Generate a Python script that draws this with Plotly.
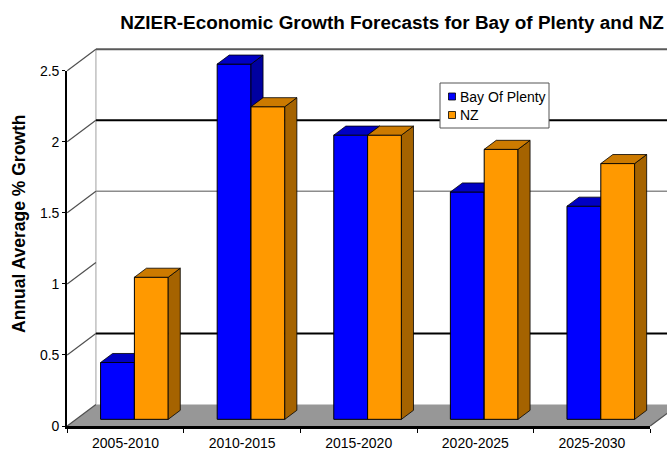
import plotly.graph_objects as go

# ---- data -------------------------------------------------------------
categories = ["2005-2010", "2010-2015", "2015-2020", "2020-2025", "2025-2030"]
bay_of_plenty = [0.4, 2.5, 2.0, 1.6, 1.5]
nz = [1.0, 2.2, 2.0, 1.9, 1.8]
y_ticks = [0, 0.5, 1, 1.5, 2, 2.5]
series_names = ["Bay Of Plenty", "NZ"]

# ---- geometry of the pseudo-3D frame ---------------------------------
W, H = 667, 455
FX0, CW = 125.5, 116.6      # pixel x of first category centre, pixels per category
FY0, VH = 426.0, 142.1      # pixel y of value 0, pixels per unit value
DX, DY = 28.7 / CW, 21.5 / VH   # full floor depth expressed in data units
BAR_W = 0.29                # width of one bar (category units)
F0, F1 = 0.31, 0.73         # depth span occupied by the bars
BDX, BDY = (F1 - F0) * DX, (F1 - F0) * DY
BASE = F0 * DY
X_LO, X_HI = -0.5, len(categories) - 0.5
Y_TOP = y_ticks[-1]

FONT = "Liberation Sans, Arial, sans-serif"

colors = {
    "Bay Of Plenty": dict(front="#0000FF", top="#0000C4", side="#0000A0"),
    "NZ": dict(front="#FF9900", top="#CC7A00", side="#A56300"),
}

fig = go.Figure()


def add_series(name, values, offset, xa, ya):
    c = colors[name]
    xs = [i + F0 * DX for i in range(len(values))]
    fig.add_trace(go.Bar(
        x=xs, y=values, base=BASE, width=BAR_W, offset=offset,
        marker=dict(color=c["front"], line=dict(color="#000000", width=1)),
        name=name, showlegend=False, hoverinfo="skip", xaxis=xa, yaxis=ya,
    ))
    side_x, side_y, top_x, top_y = [], [], [], []
    for x, v in zip(xs, values):
        x0 = x + offset
        x1 = x0 + BAR_W
        t = BASE + v
        side_x += [x1, x1, x1 + BDX, x1 + BDX, x1, None]
        side_y += [BASE, t, t + BDY, BASE + BDY, BASE, None]
        top_x += [x0, x1, x1 + BDX, x0 + BDX, x0, None]
        top_y += [t, t, t + BDY, t + BDY, t, None]
    for px, py, col in ((side_x, side_y, c["side"]), (top_x, top_y, c["top"])):
        fig.add_trace(go.Scatter(
            x=px, y=py, mode="lines", fill="toself", fillcolor=col,
            line=dict(color="#000000", width=0.8), showlegend=False,
            hoverinfo="skip", xaxis=xa, yaxis=ya,
        ))


add_series("Bay Of Plenty", bay_of_plenty, -BAR_W, "x", "y")
add_series("NZ", nz, 0.0, "x3", "y3")

# empty trace so the front value/category axes get their own subplot
fig.add_trace(go.Scatter(x=[], y=[], xaxis="x2", yaxis="y2",
                         showlegend=False, hoverinfo="skip"))

# ---- walls, floor and gridlines --------------------------------------
shapes = []
floor_path = (f"M {X_LO},0 L {X_HI},0 L {X_HI + DX},{DY} "
              f"L {X_LO + DX},{DY} Z")
shapes.append(dict(type="path", path=floor_path, xref="x", yref="y",
                   fillcolor="#979797", line=dict(width=0), layer="below"))
shapes.append(dict(type="line", xref="x", yref="y", layer="below",
                   x0=X_LO + DX, x1=X_LO + DX, y0=DY, y1=Y_TOP + DY,
                   line=dict(color="#C0C0C0", width=1.5)))
grid_style = {
    0.5: ("#000000", 2),
    1.5: ("#8C8C8C", 1.5),
    2: ("#000000", 2),
    2.5: ("#5A5A5A", 2),
}
for v, (col, wd) in grid_style.items():
    shapes.append(dict(type="line", xref="x", yref="y", layer="below",
                       x0=X_LO + DX, x1=X_HI + DX, y0=v + DY, y1=v + DY,
                       line=dict(color=col, width=wd)))
for v in y_ticks:
    shapes.append(dict(type="line", xref="x", yref="y", layer="below",
                       x0=X_LO, x1=X_LO + DX, y0=v, y1=v + DY,
                       line=dict(color="#505050", width=1.2)))
shapes.append(dict(type="line", xref="x", yref="y", layer="below",
                   x0=X_HI, x1=X_HI + DX, y0=0, y1=DY,
                   line=dict(color="#505050", width=1.2)))

# ---- legend box -------------------------------------------------------
LX0, LX1, LY0, LY1 = 440, 549, 83, 128
shapes.append(dict(type="rect", xref="paper", yref="paper", layer="above",
                   x0=LX0 / W, x1=LX1 / W, y0=1 - LY1 / H, y1=1 - LY0 / H,
                   fillcolor="#FFFFFF", line=dict(color="#555555", width=1)))
annotations = []
for k, name in enumerate(series_names):
    cy = 96.5 + k * 18.5
    shapes.append(dict(type="rect", xref="paper", yref="paper", layer="above",
                       x0=448.5 / W, x1=455.5 / W,
                       y0=1 - (cy + 3.5) / H, y1=1 - (cy - 3.5) / H,
                       fillcolor=colors[name]["front"],
                       line=dict(color="#000000", width=0.8)))
    annotations.append(dict(x=458 / W, y=1 - cy / H, xref="paper", yref="paper",
                            text=name, showarrow=False, xanchor="left",
                            yanchor="middle",
                            font=dict(family=FONT, size=14, color="#000000")))

annotations.append(dict(x=19 / W, y=1 - 224 / H, xref="paper", yref="paper",
                        text="<b>Annual Average % Growth</b>", showarrow=False,
                        textangle=-90, xanchor="center", yanchor="middle",
                        font=dict(family=FONT, size=17.5, color="#000000")))

# ---- axes -------------------------------------------------------------
world_x = [(0 - FX0) / CW, (W - FX0) / CW]
world_y = [(FY0 - H) / VH, FY0 / VH]
hidden = dict(visible=False, showgrid=False, zeroline=False, fixedrange=True,
              automargin=False)

fig.update_layout(
    width=W, height=H,
    margin=dict(l=0, r=0, t=0, b=0, autoexpand=False),
    paper_bgcolor="#FFFFFF", plot_bgcolor="rgba(0,0,0,0)",
    showlegend=False,
    title=dict(text="<b>NZIER-Economic Growth Forecasts for Bay of Plenty and NZ</b>",
               x=392 / W, xanchor="center", y=1 - 22 / H, yanchor="middle",
               font=dict(family=FONT, size=18.9, color="#000000"),
               automargin=False),
    xaxis=dict(domain=[0, 1], range=world_x, **hidden),
    yaxis=dict(domain=[0, 1], range=world_y, **hidden),
    xaxis3=dict(overlaying="x", range=world_x, **hidden),
    yaxis3=dict(overlaying="y", range=world_y, **hidden),
    xaxis2=dict(
        domain=[(FX0 + X_LO * CW) / W, (FX0 + X_HI * CW) / W],
        range=[X_LO, X_HI], anchor="y2", automargin=False,
        tickmode="array", tickvals=list(range(len(categories))),
        ticktext=categories, ticks="", ticklabelstandoff=2,
        minor=dict(tickvals=[i - 0.5 for i in range(len(categories) + 1)],
                   ticks="outside", ticklen=4, tickwidth=1,
                   tickcolor="#000000", showgrid=False),
        showline=True, linecolor="#000000", linewidth=2.5,
        showgrid=False, zeroline=False, fixedrange=True,
        tickfont=dict(family=FONT, size=14, color="#000000"),
    ),
    yaxis2=dict(
        domain=[(H - FY0) / H, (H - (FY0 - Y_TOP * VH)) / H],
        range=[0, Y_TOP], anchor="x2", automargin=False,
        tickmode="array", tickvals=y_ticks,
        ticks="outside", ticklen=3, tickwidth=1, tickcolor="#000000",
        showline=True, linecolor="#000000", linewidth=2,
        showgrid=False, zeroline=False, fixedrange=True,
        tickfont=dict(family=FONT, size=14, color="#000000"),
    ),
    shapes=shapes,
    annotations=annotations,
)

fig.write_html("out.html")
